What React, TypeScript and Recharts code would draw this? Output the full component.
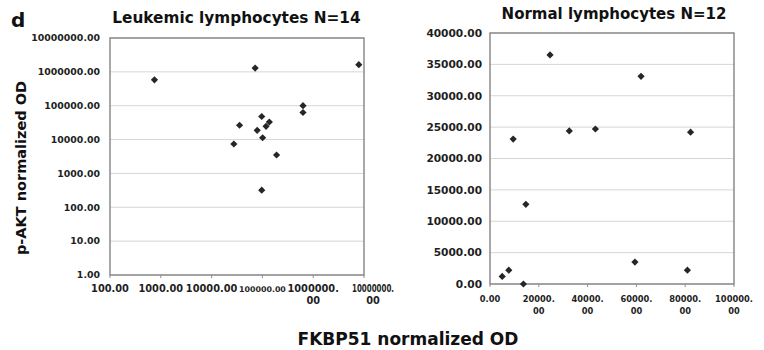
import React from 'react';
import { ScatterChart, Scatter, XAxis, YAxis, CartesianGrid, ReferenceArea } from 'recharts';

// Leukemic lymphocytes (log / log)
const leukFkbp = [750, 72000, 7900000, 630000, 630000, 35500, 27400, 97000, 79000, 101000, 118000, 137000, 190000, 97000];
const leukAkt = [583000, 1290000, 1630000, 100000, 63000, 26500, 7400, 48000, 18700, 11300, 24600, 33000, 3500, 320];

// Normal lymphocytes (linear)
const normFkbp = [9500, 24600, 32500, 43200, 61900, 82200, 14700, 5000, 7700, 13700, 59400, 80900];
const normAkt = [23100, 36500, 24400, 24700, 33100, 24200, 12700, 1200, 2200, 0, 3500, 2200];

const leukXTicks = [100, 1000, 10000, 100000, 1000000, 10000000];
const leukYTicks = [1, 10, 100, 1000, 10000, 100000, 1000000, 10000000];
const normXTicks = [0, 20000, 40000, 60000, 80000, 100000];
const normYTicks = [0, 5000, 10000, 15000, 20000, 25000, 30000, 35000, 40000];

const leukData = leukFkbp.map((x, i) => ({ x, y: leukAkt[i] }));
const normData = normFkbp.map((x, i) => ({ x, y: normAkt[i] }));

const FONT = '"DejaVu Sans", Verdana, sans-serif';
const INK = '#1e1e1e';
const BORDER = '#8c8c8c';
const GRID = '#d6d6d6';

const fmt = (v: number) => Number(v).toFixed(2);

const Diamond = (props: any) => {
  const { cx, cy } = props;
  if (cx == null || cy == null) return null;
  const r = 3.6;
  return (
    <polygon
      points={`${cx},${cy - r} ${cx + r},${cy} ${cx},${cy + r} ${cx - r},${cy}`}
      fill="#262626"
    />
  );
};

// excel-style wrapped labels: "1000000.\n00"
const splitLabel = (s: string, wrapAt: number) => {
  if (s.length < wrapAt) return [s];
  const k = s.indexOf('.') + 1;
  return [s.slice(0, k), s.slice(k)];
};

const LeukXTick = (props: any) => {
  const { x, y, payload } = props;
  const s = fmt(payload.value);
  const lines = splitLabel(s, 10);
  const last = s.length === 11;
  const fs = s.length === 9 ? 7.9 : 9.8;
  // last label is squeezed and sits a bit right of its tick in the original
  const cx = last ? x + 9 : x;
  return (
    <text x={cx} y={y} textAnchor="middle" fill={INK} fontSize={fs} fontWeight="bold" fontFamily={FONT}>
      {lines.map((l, i) =>
        last && i === 0 ? (
          <tspan key={i} x={cx} dy={14} textLength={42} lengthAdjust="spacingAndGlyphs">{l}</tspan>
        ) : (
          <tspan key={i} x={cx} dy={i === 0 ? 14 : 12}>{l}</tspan>
        )
      )}
    </text>
  );
};

const NormXTick = (props: any) => {
  const { x, y, payload } = props;
  const lines = splitLabel(fmt(payload.value), 8);
  return (
    <text x={x} y={y} textAnchor="middle" fill={INK} fontSize={8.3} fontWeight="bold" fontFamily={FONT}>
      {lines.map((l, i) => (
        <tspan key={i} x={x} dy={i === 0 ? 15 : 12}>{l}</tspan>
      ))}
    </text>
  );
};

const LeukChart = () => (
  <ScatterChart width={420} height={350} margin={{ top: 38, right: 56, bottom: 35, left: 10 }}>
    <CartesianGrid vertical={false} stroke={GRID} />
    <XAxis
      type="number"
      dataKey="x"
      scale="log"
      domain={[100, 10000000]}
      ticks={leukXTicks}
      interval={0}
      height={40}
      axisLine={false}
      tickLine={{ stroke: BORDER }}
      tickSize={3}
      tickMargin={0}
      tick={<LeukXTick />}
    />
    <YAxis
      type="number"
      dataKey="y"
      scale="log"
      domain={[1, 10000000]}
      ticks={leukYTicks}
      interval={0}
      width={100}
      axisLine={false}
      tickLine={false}
      tickSize={0}
      tickMargin={10}
      tickFormatter={fmt}
      tick={{ fill: INK, fontSize: 9.4, fontWeight: 'bold', fontFamily: FONT }}
    />
    <ReferenceArea x1={100} x2={10000000} y1={1} y2={10000000} fill="none" stroke={BORDER} strokeWidth={1.5} />
    <Scatter data={leukData} shape={Diamond} isAnimationActive={false} />
  </ScatterChart>
);

const NormChart = () => (
  <ScatterChart width={384} height={350} margin={{ top: 33, right: 30, bottom: 26, left: 10 }}>
    <CartesianGrid vertical={false} stroke={GRID} />
    <XAxis
      type="number"
      dataKey="x"
      domain={[0, 100000]}
      ticks={normXTicks}
      interval={0}
      height={40}
      axisLine={false}
      tickLine={{ stroke: BORDER }}
      tickSize={3}
      tickMargin={0}
      tick={<NormXTick />}
    />
    <YAxis
      type="number"
      dataKey="y"
      domain={[0, 40000]}
      ticks={normYTicks}
      interval={0}
      width={100}
      axisLine={false}
      tickLine={false}
      tickSize={0}
      tickMargin={8}
      tickFormatter={fmt}
      tick={{ fill: INK, fontSize: 10.6, fontWeight: 'bold', fontFamily: FONT }}
    />
    <ReferenceArea x1={0} x2={100000} y1={0} y2={40000} fill="none" stroke={BORDER} strokeWidth={1.5} />
    <Scatter data={normData} shape={Diamond} isAnimationActive={false} />
  </ScatterChart>
);

export default function App() {
  return (
    <div
      style={{
        position: 'absolute',
        left: 0,
        top: 0,
        width: 764,
        height: 350,
        background: '#fff',
        fontFamily: FONT,
        overflow: 'hidden',
      }}
    >
      <div style={{ position: 'absolute', left: 0, top: 0 }}>
        <LeukChart />
      </div>
      <div style={{ position: 'absolute', left: 400, top: 0, width: 364, overflow: 'hidden' }}>
        <div style={{ marginLeft: -20 }}>
          <NormChart />
        </div>
      </div>
      <svg
        width={764}
        height={350}
        style={{ position: 'absolute', left: 0, top: 0, pointerEvents: 'none' }}
        fontFamily={FONT}
        fontWeight="bold"
        fill="#111"
      >
        <text x={11} y={27} fontSize={20}>d</text>
        <text x={236.5} y={23} fontSize={15.3} textAnchor="middle">Leukemic lymphocytes N=14</text>
        <text x={614} y={18.5} fontSize={15} textAnchor="middle">Normal lymphocytes N=12</text>
        <text x={26} y={168} fontSize={14.5} textAnchor="middle" transform="rotate(-90 26 168)">
          p-AKT normalized OD
        </text>
        <text x={408} y={345} fontSize={17} textAnchor="middle">FKBP51 normalized OD</text>
      </svg>
    </div>
  );
}
